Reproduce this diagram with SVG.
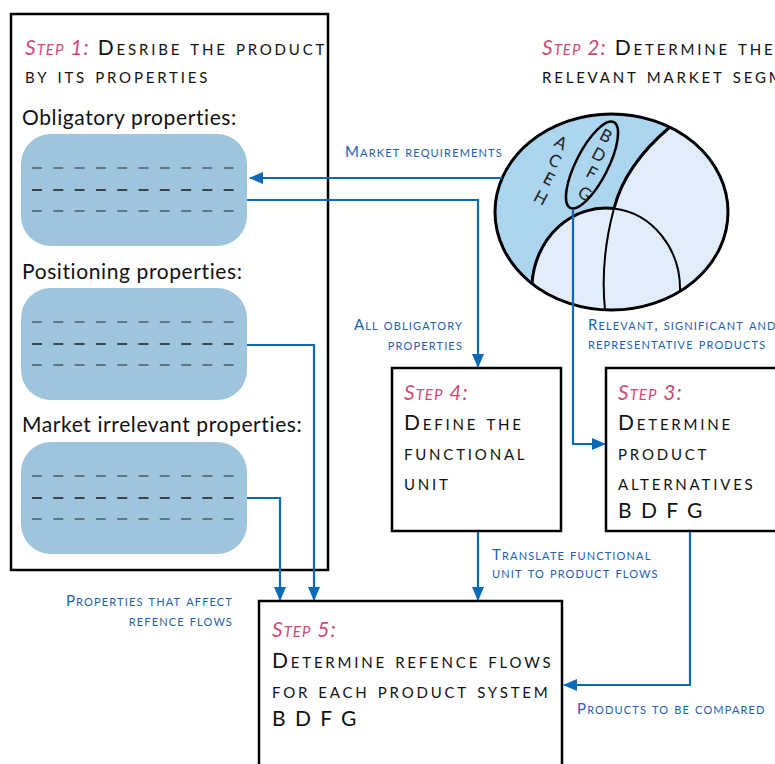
<svg xmlns="http://www.w3.org/2000/svg" width="775" height="764" viewBox="0 0 775 764">
<defs>
<marker id="ah" viewBox="0 0 14 12" refX="13" refY="6" markerWidth="14" markerHeight="12" markerUnits="userSpaceOnUse" orient="auto"><path d="M0,0 L14,6 L0,12 Z" fill="#0a6ab8"/></marker>
<style>
.box{fill:#fff;stroke:#000;stroke-width:2.5}
.prop{fill:#9ec5dd}
.dash{stroke:#4d5b66;stroke-width:1.6;stroke-dasharray:10 11.3}
.dashm{stroke:#1a1a1a;stroke-width:1.4;stroke-dasharray:10 11.3}
.t{font-family:Lato,'Open Sans',sans-serif;fill:#111}
.body{font-size:21px;letter-spacing:0.6px}
.sc{font-variant:small-caps;letter-spacing:2.8px;font-size:21px}
.step{fill:#d04a78;font-style:italic;letter-spacing:1px}
.lbl{font-family:Lato,'Open Sans',sans-serif;font-variant:small-caps;fill:#1c5fae;font-size:15px;letter-spacing:1.15px}
.conn{fill:none;stroke:#0a6ab8;stroke-width:2.2}
.thick{fill:none;stroke:#000;stroke-width:3}
.thin{fill:none;stroke:#000;stroke-width:2}
.let{font-family:Lato,'Open Sans',sans-serif;font-size:17px;fill:#222}
.codes{font-size:21px;letter-spacing:2px}
</style>
</defs>
<rect width="775" height="764" fill="#fff"/>

<g id="step1">
<rect class="box" x="11" y="14" width="317" height="556"/>
<text class="t sc" x="25" y="55"><tspan class="step">Step 1:</tspan> Desribe the product</text>
<text class="t sc" x="25" y="83">by its properties</text>
<text class="t body" x="22" y="125">Obligatory properties:</text>
<rect class="prop" x="21" y="134" width="226" height="112" rx="30"/>
<line class="dash" x1="32" y1="168" x2="240" y2="168"/>
<line class="dashm" x1="32" y1="190" x2="240" y2="190"/>
<line class="dash" x1="32" y1="211" x2="240" y2="211"/>
<text class="t body" x="22" y="279">Positioning properties:</text>
<rect class="prop" x="21" y="288" width="226" height="112" rx="30"/>
<line class="dash" x1="32" y1="322" x2="240" y2="322"/>
<line class="dashm" x1="32" y1="344" x2="240" y2="344"/>
<line class="dash" x1="32" y1="365" x2="240" y2="365"/>
<text class="t body" x="22" y="432">Market irrelevant properties:</text>
<rect class="prop" x="21" y="442" width="226" height="112" rx="30"/>
<line class="dash" x1="32" y1="476" x2="240" y2="476"/>
<line class="dashm" x1="32" y1="498" x2="240" y2="498"/>
<line class="dash" x1="32" y1="519" x2="240" y2="519"/>
</g>

<g id="step2">
<text class="t sc" x="542" y="55"><tspan class="step">Step 2:</tspan> Determine the</text>
<text class="t sc" x="542" y="83">relevant market segment</text>
<ellipse cx="611.5" cy="212" rx="116.5" ry="98" fill="#e1eefa"/>
<path d="M670,127 A116.5,98 0 0 0 532,283.6 A74,81 0 0 1 614,208.5 Q625,165 670,127 Z" fill="#acd5f0"/>
<path class="thick" d="M532,283.6 A74,81 0 0 1 614,208.5"/>
<path class="thin" d="M614,208.5 A74,81 0 0 1 680,291"/>
<path class="thick" d="M670,127 Q625,165 614,208.5"/>
<path class="thin" d="M614,208.5 Q600,260 605,310"/>
<ellipse cx="611.5" cy="212" rx="116.5" ry="98" class="thick"/>
<ellipse cx="0" cy="0" rx="16" ry="48" class="thin" transform="translate(592,165) rotate(27)" style="stroke-width:2.5"/>
<text class="let" transform="translate(558,148) rotate(28)" text-anchor="middle">A</text>
<text class="let" transform="translate(552,166) rotate(28)" text-anchor="middle">C</text>
<text class="let" transform="translate(546,184) rotate(28)" text-anchor="middle">E</text>
<text class="let" transform="translate(538,203) rotate(28)" text-anchor="middle">H</text>
<text class="let" transform="translate(603,141) rotate(28)" text-anchor="middle">B</text>
<text class="let" transform="translate(596,160) rotate(28)" text-anchor="middle">D</text>
<text class="let" transform="translate(589,178) rotate(28)" text-anchor="middle">F</text>
<text class="let" transform="translate(582,199) rotate(28)" text-anchor="middle">G</text>
</g>

<g id="step4">
<rect class="box" x="392" y="368" width="169" height="163"/>
<text class="t sc step" x="404" y="400">Step 4:</text>
<text class="t sc" x="404" y="430">Define the</text>
<text class="t sc" x="404" y="460">functional</text>
<text class="t sc" x="404" y="490">unit</text>
</g>

<g id="step3">
<rect class="box" x="606" y="368" width="180" height="163"/>
<text class="t sc step" x="618" y="400">Step 3:</text>
<text class="t sc" x="618" y="430">Determine</text>
<text class="t sc" x="618" y="460">product</text>
<text class="t sc" x="618" y="490">alternatives</text>
<text class="t codes" x="618" y="518">B D F G</text>
</g>

<g id="step5">
<rect class="box" x="259" y="601" width="303" height="180"/>
<text class="t sc step" x="272" y="637">Step 5:</text>
<text class="t sc" x="272" y="668">Determine refence flows</text>
<text class="t sc" x="272" y="698">for each product system</text>
<text class="t codes" x="272" y="726">B D F G</text>
</g>

<g id="connectors">
<path class="conn" d="M502,178 L250,178" marker-end="url(#ah)"/>
<path class="conn" d="M247,200 L478,200 L478,367" marker-end="url(#ah)"/>
<path class="conn" d="M247,345 L314,345 L314,600" marker-end="url(#ah)"/>
<path class="conn" d="M247,498 L280,498 L280,600" marker-end="url(#ah)"/>
<path class="conn" d="M573,210 L573,444 L605,444" marker-end="url(#ah)"/>
<path class="conn" d="M478,532 L478,600" marker-end="url(#ah)"/>
<path class="conn" d="M690,532 L690,685 L564,685" marker-end="url(#ah)"/>
<text class="lbl" x="345" y="157">Market requirements</text>
<text class="lbl" x="463" y="330" text-anchor="end">All obligatory</text>
<text class="lbl" x="463" y="350" text-anchor="end">properties</text>
<text class="lbl" x="588" y="330">Relevant, significant and</text>
<text class="lbl" x="588" y="349">representative products</text>
<text class="lbl" x="492" y="560">Translate functional</text>
<text class="lbl" x="492" y="578">unit to product flows</text>
<text class="lbl" x="233" y="606" text-anchor="end">Properties that affect</text>
<text class="lbl" x="233" y="626" text-anchor="end">refence flows</text>
<text class="lbl" x="577" y="714">Products to be compared</text>
</g>
</svg>
